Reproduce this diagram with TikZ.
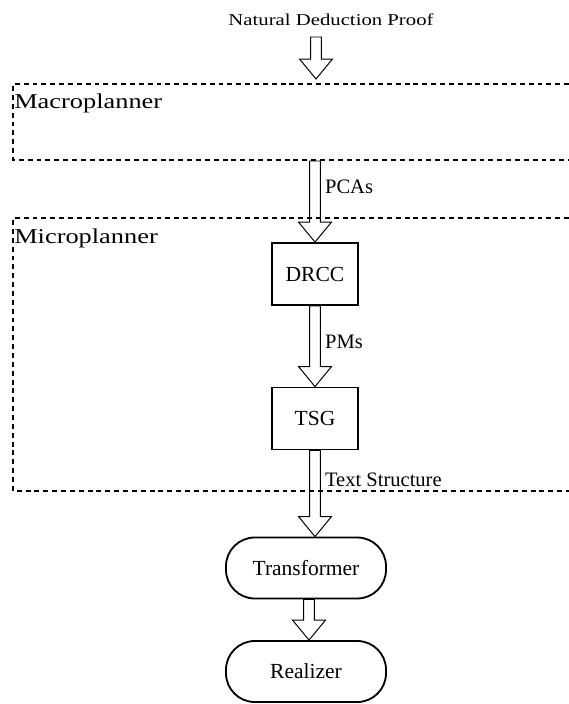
\documentclass[tikz,border=0pt]{standalone}
\usepackage{fontspec}
\setmainfont{Liberation Serif}
\newfontfamily\widefont[FakeStretch=1.25]{Liberation Serif}
\usetikzlibrary{calc}

\tikzset{
  box/.style={draw, line width=1.3pt, minimum width=2.15cm, minimum height=1.55cm,
    font=\fontsize{15.3}{18}\selectfont},
  pill/.style={draw, line width=1.3pt, rounded corners=0.72cm, minimum width=4.0cm,
    minimum height=1.525cm, font=\fontsize{15.3}{18}\selectfont},
  frame/.style={dash pattern=on 3.5pt off 2.8pt, line width=0.8pt},
  title/.style={font=\widefont\fontsize{15}{18}\selectfont, inner sep=0pt, anchor=base west},
  lbl/.style={font=\fontsize{14.6}{17}\selectfont, anchor=west, inner sep=2pt},
  fat/.style={line width=0.7pt}
}

% hollow block arrow from #1 down to #2
\newcommand{\fatarrow}[2]{%
  \draw[fat] ($(#1)+(-3.9pt,0pt)$) -- ($(#2)+(-3.9pt,14.2pt)$)
    -- ($(#2)+(-11.7pt,14.2pt)$) -- (#2)
    -- ($(#2)+(11.7pt,14.2pt)$) -- ($(#2)+(3.9pt,14.2pt)$)
    -- ($(#1)+(3.9pt,0pt)$) -- cycle;}

\begin{document}
\begin{tikzpicture}[x=0.025cm, y=-0.025cm]
  \useasboundingbox (0,0) rectangle (569,704);

  \node[font=\widefont\fontsize{11.8}{14}\selectfont] (ndp) at (331,20) {Natural Deduction Proof};

  % the two planner frames, open to the right
  \draw[frame] (569,84) -- (13,84) -- (13,160) -- (569,160);
  \node[title] (macro) at (14,108) {Macroplanner};
  \draw[frame] (569,218) -- (13,218) -- (13,491) -- (569,491);
  \node[title] (micro) at (14,243) {Microplanner};

  \node[box] (drcc) at (315,274) {DRCC};
  \node[box] (tsg) at (315,418.5) {TSG};
  \node[pill] (trans) at (306,568) {Transformer};
  \node[pill] (real) at (306,671.5) {Realizer};

  \coordinate (src) at (316,37);
  \coordinate (mtop) at (316,79);
  \coordinate (mbot) at (315,161);
  \coordinate (ttop) at (tsg.south |- trans.north);
  \coordinate (tbot) at ($(trans.south)+(3,0)$);
  \coordinate (rtop) at (tbot |- real.north);

  \fatarrow{src}{mtop}
  \fatarrow{mbot}{drcc.north}
  \fatarrow{drcc.south}{tsg.north}
  \fatarrow{tsg.south}{ttop}
  \fatarrow{tbot}{rtop}

  \node[lbl] (pcas) at (322,187) {PCAs};
  \node[lbl] (pms) at (322,342) {PMs};
  \node[lbl] (ts) at (322,480) {Text Structure};

\end{tikzpicture}
\end{document}
